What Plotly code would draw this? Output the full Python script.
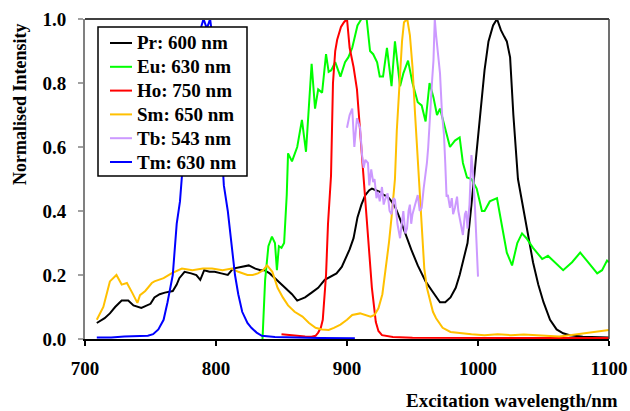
import plotly.graph_objects as go

# ---------------- data ----------------
pr_x = [709, 715, 719, 723, 728, 733, 737, 743, 750, 753, 757, 761, 767, 770, 772, 776, 781, 785, 788, 791,
        795, 799, 804, 809, 813, 818, 825, 830, 834, 837, 841, 845, 849, 853, 858, 862, 868, 873, 878, 883,
        888, 892, 896, 899, 902, 905, 908, 911, 914, 917, 919, 922, 925, 928, 931, 934, 937, 940, 944, 949,
        954, 960, 965, 971, 975, 979, 983, 986, 989, 992, 995, 998, 1001.5, 1005, 1008, 1011.5, 1014.5,
        1017.5, 1020, 1022, 1024.5, 1027, 1030.5, 1034, 1037, 1042, 1046, 1050, 1055, 1060, 1065, 1070,
        1080, 1090, 1100]
pr_y = [0.05, 0.065, 0.08, 0.10, 0.12, 0.12, 0.105, 0.097, 0.11, 0.13, 0.14, 0.145, 0.15, 0.17, 0.19, 0.21,
        0.205, 0.20, 0.185, 0.215, 0.21, 0.21, 0.205, 0.20, 0.22, 0.225, 0.23, 0.22, 0.215, 0.215, 0.205, 0.19,
        0.175, 0.16, 0.14, 0.12, 0.13, 0.145, 0.16, 0.185, 0.195, 0.205, 0.225, 0.25, 0.28, 0.315, 0.38, 0.42,
        0.45, 0.465, 0.47, 0.465, 0.46, 0.45, 0.445, 0.43, 0.41, 0.38, 0.335, 0.28, 0.23, 0.18, 0.15, 0.115,
        0.115, 0.13, 0.16, 0.20, 0.25, 0.30, 0.42, 0.55, 0.70, 0.84, 0.93, 0.98, 1.0, 0.965, 0.945, 0.93, 0.88,
        0.70, 0.50, 0.42, 0.36, 0.24, 0.17, 0.115, 0.06, 0.03, 0.018, 0.012, 0.007, 0.005, 0.005]

eu_x = [835.5, 837.5, 840, 842.7, 845, 846.5, 848, 850, 852, 854, 855, 858, 862, 865.6, 868.7, 871, 873,
        875.6, 878, 881, 884, 886, 888, 891, 895, 898.5, 901, 904, 908, 911, 915, 917.6, 920, 923, 925, 927.5,
        930.5, 934, 936.6, 940.5, 943, 946.6, 950, 954, 957, 960, 963, 966, 968.7, 971, 975, 978.6, 982.4,
        986, 988.5, 991.6, 995, 999, 1003, 1005, 1009, 1014.5, 1018, 1022, 1026, 1030, 1033.6, 1037, 1042,
        1049, 1053.4, 1058.8, 1065, 1071.8, 1078, 1084, 1091, 1094.7, 1098.5, 1100]
eu_y = [0.0, 0.185, 0.29, 0.32, 0.30, 0.215, 0.29, 0.285, 0.30, 0.45, 0.58, 0.555, 0.60, 0.685, 0.585, 0.72,
        0.86, 0.72, 0.78, 0.77, 0.89, 0.835, 0.84, 0.865, 0.82, 0.865, 0.88, 0.91, 0.98, 1.0, 1.0, 0.90, 0.89,
        0.865, 0.82, 0.82, 0.91, 0.79, 0.93, 0.79, 0.83, 0.87, 0.80, 0.74, 0.73, 0.68, 0.80, 0.755, 0.70,
        0.72, 0.66, 0.60, 0.62, 0.63, 0.55, 0.505, 0.50, 0.47, 0.40, 0.40, 0.43, 0.44, 0.36, 0.27, 0.23,
        0.30, 0.33, 0.315, 0.285, 0.25, 0.26, 0.24, 0.215, 0.24, 0.27, 0.24, 0.205, 0.215, 0.245, 0.24]

ho_x = [850, 856, 862, 868, 873, 876, 878, 880, 881.5, 882.5, 884, 885.5, 887.8, 889.3, 891, 892.5, 895.4,
        897.7, 900, 902, 905, 907.6, 909, 911, 913, 914.5, 916, 919, 922, 924, 926.7, 935, 950, 1000, 1050, 1100]
ho_y = [0.015, 0.012, 0.01, 0.008, 0.007, 0.01, 0.02, 0.035, 0.06, 0.115, 0.20, 0.36, 0.51, 0.80, 0.90,
        0.935, 0.975, 0.99, 1.0, 0.91, 0.85, 0.78, 0.70, 0.60, 0.50, 0.40, 0.30, 0.16, 0.053, 0.025, 0.012,
        0.006, 0.004, 0.003, 0.003, 0.003]

sm_x = [709, 714, 719, 724, 728, 732, 736, 740, 742, 746, 751, 753, 760, 766, 774, 782, 790, 797, 805, 812,
        817, 824, 828, 832, 836, 839, 843, 847, 851, 855, 860, 866, 871, 876, 881, 886, 890, 895, 900, 904,
        910, 914, 918, 921, 924, 927, 929, 932, 934, 936.6, 938, 940, 942, 943.5, 946, 948, 950, 952, 955,
        957, 959, 961, 963, 965.6, 968, 973, 979, 986, 995, 1005, 1015, 1025, 1035, 1045, 1055, 1062, 1070,
        1080, 1090, 1100]
sm_y = [0.06, 0.10, 0.18, 0.20, 0.17, 0.175, 0.145, 0.113, 0.137, 0.15, 0.175, 0.18, 0.19, 0.205, 0.22,
        0.215, 0.22, 0.22, 0.215, 0.22, 0.21, 0.20, 0.20, 0.205, 0.215, 0.23, 0.21, 0.16, 0.13, 0.105, 0.085,
        0.07, 0.05, 0.035, 0.03, 0.028, 0.035, 0.045, 0.06, 0.075, 0.08, 0.075, 0.07, 0.075, 0.096, 0.14,
        0.20, 0.30, 0.38, 0.50, 0.65, 0.80, 0.93, 0.99, 1.0, 0.95, 0.85, 0.70, 0.50, 0.33, 0.22, 0.16, 0.13,
        0.085, 0.065, 0.035, 0.022, 0.018, 0.015, 0.012, 0.015, 0.012, 0.014, 0.012, 0.01, 0.008, 0.012,
        0.018, 0.022, 0.028]

tb_x = [900, 902, 904, 905.6, 907.6, 910, 911.5, 912.7, 914, 916, 917, 918.5, 920, 921, 922.5, 923.7, 925,
        926.7, 928, 929, 931, 932.5, 934, 935.5, 936.6, 938.5, 940.5, 942, 943, 944.5, 945.8, 947, 948, 949,
        950, 952, 954, 955.5, 957, 958.5, 959.5, 961, 962, 963.5, 965, 966, 967, 968, 968.7, 970, 971, 972.5,
        974, 975, 976, 977, 978.6, 980, 981, 982.4, 984, 985, 986, 987, 988.5, 990, 991, 992, 993.5, 995,
        996.5, 997.7, 999, 1000]
tb_y = [0.66, 0.70, 0.72, 0.60, 0.69, 0.66, 0.575, 0.535, 0.56, 0.55, 0.48, 0.53, 0.49, 0.50, 0.44, 0.46,
        0.43, 0.475, 0.42, 0.435, 0.455, 0.40, 0.39, 0.44, 0.435, 0.36, 0.315, 0.37, 0.40, 0.33, 0.345, 0.40,
        0.42, 0.36, 0.39, 0.42, 0.45, 0.40, 0.41, 0.47, 0.50, 0.55, 0.60, 0.72, 0.81, 0.87, 1.0, 0.95, 0.925,
        0.87, 0.83, 0.705, 0.64, 0.55, 0.445, 0.45, 0.41, 0.44, 0.39, 0.41, 0.445, 0.40, 0.38, 0.36, 0.325,
        0.39, 0.40, 0.345, 0.42, 0.575, 0.50, 0.41, 0.30, 0.195]

tm_x = [709, 720, 730, 740, 748, 752, 756, 760, 763, 767, 770, 772.5, 774, 778, 782, 786, 789, 790.5, 793,
        795.5, 798, 801, 803.5, 806, 809, 812, 814.5, 817, 820, 824, 827, 831, 835, 845, 860, 880, 906]
tm_y = [0.005, 0.005, 0.008, 0.008, 0.01, 0.015, 0.03, 0.06, 0.115, 0.20, 0.36, 0.43, 0.51, 0.66, 0.80,
        0.92, 0.98, 1.0, 0.97, 1.0, 0.92, 0.80, 0.65, 0.48, 0.40, 0.30, 0.20, 0.14, 0.085, 0.05, 0.035, 0.02,
        0.01, 0.006, 0.004, 0.003, 0.002]

series_names = ["Pr: 600 nm", "Eu: 630 nm", "Ho: 750 nm", "Sm: 650 nm", "Tb: 543 nm", "Tm: 630 nm"]
series_colors = ["#000000", "#00FF00", "#FF0000", "#FFC000", "#CC99FF", "#0000FF"]
series_x = [pr_x, eu_x, ho_x, sm_x, tb_x, tm_x]
series_y = [pr_y, eu_y, ho_y, sm_y, tb_y, tm_y]

x_ticks = [700, 800, 900, 1000, 1100]
y_ticks = [0.0, 0.2, 0.4, 0.6, 0.8, 1.0]

FONT = "Liberation Serif"
W, H = 630, 411
ML, MR, MT, MB = 85, 21, 19, 72
PW, PH = W - ML - MR, H - MT - MB


def px2paper_x(px):
    return (px - ML) / PW


def px2paper_y(py):
    return (H - MB - py) / PH


fig = go.Figure()
for name, xs, ys, col in zip(series_names, series_x, series_y, series_colors):
    fig.add_trace(go.Scatter(x=xs, y=ys, mode="lines", name=name,
                             line=dict(color=col, width=2), showlegend=False))

# legend box drawn by hand (Plotly's legend spacing is too loose for this layout)
shapes = [
    dict(type="line", xref="paper", yref="paper", x0=0, x1=1, y0=1, y1=1,
         line=dict(color="#404040", width=2)),
    dict(type="line", xref="paper", yref="paper", x0=1, x1=1, y0=0, y1=1,
         line=dict(color="#404040", width=1.5)),
    dict(type="rect", xref="paper", yref="paper",
         x0=px2paper_x(98), x1=px2paper_x(247), y0=px2paper_y(176), y1=px2paper_y(27),
         fillcolor="white", line=dict(color="black", width=1.5), layer="above"),
]
annotations = [
    dict(text="Normalised Intensity", xref="paper", yref="paper", x=px2paper_x(20), y=px2paper_y(104),
         textangle=-90, showarrow=False, xanchor="center", yanchor="middle",
         font=dict(family=FONT, size=18, color="black", weight="bold")),
    dict(text="Excitation wavelength/nm", xref="paper", yref="paper", x=px2paper_x(620), y=px2paper_y(400),
         showarrow=False, xanchor="right", yanchor="middle",
         font=dict(family=FONT, size=19, color="black", weight="bold")),
]
for i, (name, col) in enumerate(zip(series_names, series_colors)):
    yc = 43 + i * 23.8
    shapes.append(dict(type="line", xref="paper", yref="paper",
                       x0=px2paper_x(110), x1=px2paper_x(132),
                       y0=px2paper_y(yc), y1=px2paper_y(yc),
                       line=dict(color=col, width=2), layer="above"))
    annotations.append(dict(text=name, xref="paper", yref="paper",
                            x=px2paper_x(135), y=px2paper_y(yc),
                            xanchor="left", yanchor="middle", showarrow=False,
                            font=dict(family=FONT, size=19, color="black", weight="bold")))

fig.update_layout(
    width=W, height=H,
    margin=dict(l=ML, r=MR, t=MT, b=MB, autoexpand=False),
    paper_bgcolor="white", plot_bgcolor="white",
    font=dict(family=FONT, size=19, color="black", weight="bold"),
    showlegend=False,
    xaxis=dict(range=[700, 1100], tickvals=x_ticks, ticktext=[str(v) for v in x_ticks],
               showgrid=False, zeroline=False, showline=True, linecolor="black", linewidth=2,
               ticks="outside", ticklen=5, tickcolor="black", tickwidth=1.5,
               ticklabelstandoff=6, automargin=False,
               tickfont=dict(family=FONT, size=19, color="black", weight="bold")),
    yaxis=dict(range=[0, 1], tickvals=y_ticks, ticktext=[f"{v:.1f}" for v in y_ticks],
               showgrid=False, zeroline=False, showline=True, linecolor="#808080", linewidth=2,
               ticks="outside", ticklen=5, tickcolor="#A0A0A0", tickwidth=1.5,
               ticklabelstandoff=8, automargin=False,
               tickfont=dict(family=FONT, size=19, color="black", weight="bold")),
    shapes=shapes,
    annotations=annotations,
)

fig.write_html("out.html", config={"displayModeBar": False},
               post_script="document.body.style.margin='0';document.body.style.overflow='hidden';")
